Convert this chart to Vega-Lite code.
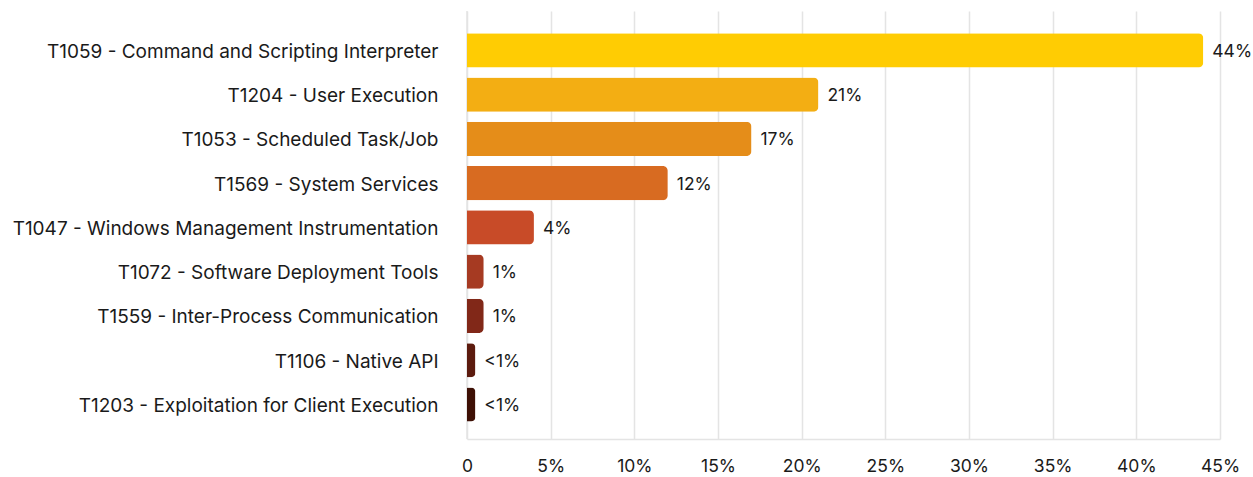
{
  "$schema": "https://vega.github.io/schema/vega-lite/v6.json",
  "autosize": {"type": "none"},
  "padding": {"left": 467, "top": 11, "right": 33, "bottom": 38},
  "width": 753,
  "height": 428,
  "background": "white",
  "config": {
    "view": {"stroke": null},
    "font": "Inter",
    "axis": {"labelFont": "Inter", "labelColor": "#1a1a1a"}
  },
  "data": {
    "values": [
      {"technique": "T1059 - Command and Scripting Interpreter", "pct": 44, "label": "44%", "color": "#FFCC03"},
      {"technique": "T1204 - User Execution", "pct": 21, "label": "21%", "color": "#F3AE13"},
      {"technique": "T1053 - Scheduled Task/Job", "pct": 17, "label": "17%", "color": "#E58D19"},
      {"technique": "T1569 - System Services", "pct": 12, "label": "12%", "color": "#D86B21"},
      {"technique": "T1047 - Windows Management Instrumentation", "pct": 4, "label": "4%", "color": "#C84B28"},
      {"technique": "T1072 - Software Deployment Tools", "pct": 1, "label": "1%", "color": "#A63A22"},
      {"technique": "T1559 - Inter-Process Communication", "pct": 1, "label": "1%", "color": "#812818"},
      {"technique": "T1106 - Native API", "pct": 0.5, "label": "<1%", "color": "#5C1B0E"},
      {"technique": "T1203 - Exploitation for Client Execution", "pct": 0.5, "label": "<1%", "color": "#3E1005"}
    ]
  },
  "encoding": {
    "y": {
      "field": "technique", "type": "nominal", "sort": null, "title": null,
      "scale": {"paddingInner": 0.23, "paddingOuter": 0.45, "align": 0.56},
      "axis": {"ticks": false, "domain": false, "labelPadding": 29, "labelLimit": 500, "labelFontSize": 19, "labelOffset": 1.5}
    },
    "x": {
      "field": "pct", "type": "quantitative", "title": null,
      "scale": {"domain": [0, 45], "nice": false},
      "axis": {
        "values": [0, 5, 10, 15, 20, 25, 30, 35, 40, 45],
        "labelExpr": "datum.value == 0 ? '0' : datum.value + '%'",
        "labelFlush": false,
        "ticks": false, "domainColor": "#e4e4e4", "domainWidth": 1.5,
        "gridColor": "#e4e4e4", "gridWidth": 1.5, "labelPadding": 18, "labelFontSize": 17.5
      }
    }
  },
  "layer": [
    {
      "mark": {"type": "rule", "color": "#e4e4e4", "strokeWidth": 1.5},
      "data": {"values": [{"z": 0}]},
      "encoding": {"x": {"field": "z", "type": "quantitative"}, "y": null}
    },
    {
      "mark": {"type": "bar", "cornerRadiusEnd": 5},
      "encoding": {"color": {"field": "color", "type": "nominal", "scale": null}}
    },
    {
      "mark": {"type": "text", "align": "left", "dx": 9, "dy": 1.5, "fontSize": 17.5, "color": "#1a1a1a", "font": "Inter"},
      "encoding": {"text": {"field": "label"}}
    }
  ]
}
